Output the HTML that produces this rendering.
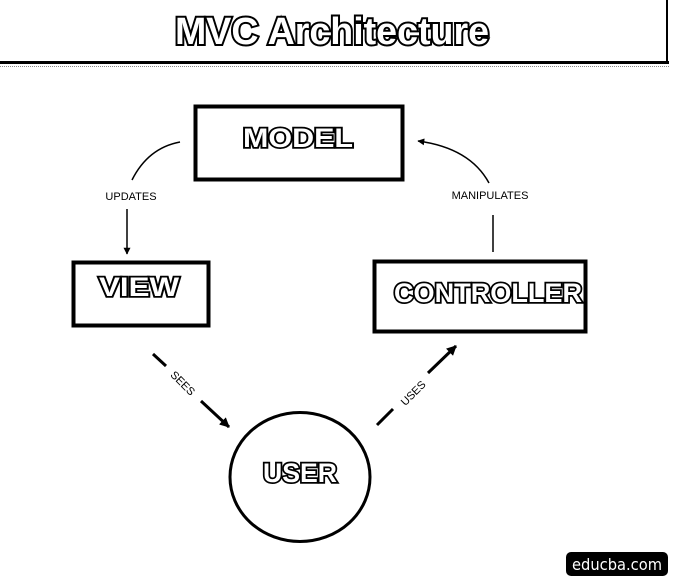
<!DOCTYPE html>
<html><head><style>html,body{margin:0;padding:0;background:#fff;}svg{display:block}</style></head>
<body>
<svg width="674" height="580" viewBox="0 0 674 580" xmlns="http://www.w3.org/2000/svg" font-family="Liberation Sans, sans-serif">
<defs>
<marker id="ah" viewBox="0 0 10 10" refX="9" refY="5" markerWidth="7" markerHeight="7" orient="auto" markerUnits="userSpaceOnUse"><path d="M0,0 L10,5 L0,10 z" fill="#000"/></marker>
<marker id="ah2" viewBox="0 0 10 10" refX="9" refY="5" markerWidth="10" markerHeight="10" orient="auto" markerUnits="userSpaceOnUse"><path d="M0,0 L10,5 L0,10 z" fill="#000"/></marker>
</defs>
<!-- title frame -->
<rect x="0" y="61" width="669" height="3" fill="#000"/>
<rect x="666" y="0" width="2" height="63" fill="#000"/>
<line x1="0" y1="66.5" x2="669" y2="66.5" stroke="#888" stroke-width="1" stroke-dasharray="1,1"/>
<text x="332" y="44" text-anchor="middle" font-size="38" font-weight="bold" fill="#fff" stroke="#000" stroke-width="4" paint-order="stroke" textLength="314" lengthAdjust="spacingAndGlyphs">MVC Architecture</text>
<!-- boxes -->
<rect x="195.5" y="106.5" width="207" height="73" fill="none" stroke="#000" stroke-width="4"/>
<text x="298" y="147" text-anchor="middle" font-size="27" font-weight="bold" fill="#fff" stroke="#000" stroke-width="3.5" paint-order="stroke" textLength="110" lengthAdjust="spacingAndGlyphs">MODEL</text>
<rect x="73.5" y="262.5" width="135" height="63" fill="none" stroke="#000" stroke-width="4"/>
<text x="139" y="296" text-anchor="middle" font-size="27" font-weight="bold" fill="#fff" stroke="#000" stroke-width="3.5" paint-order="stroke" textLength="80" lengthAdjust="spacingAndGlyphs">VIEW</text>
<rect x="374.5" y="261.5" width="211" height="70" fill="none" stroke="#000" stroke-width="4"/>
<text x="488" y="302" text-anchor="middle" font-size="27" font-weight="bold" fill="#fff" stroke="#000" stroke-width="3.5" paint-order="stroke" textLength="188" lengthAdjust="spacingAndGlyphs">CONTROLLER</text>
<ellipse cx="300" cy="477" rx="70" ry="64.5" fill="none" stroke="#000" stroke-width="3"/>
<text x="300" y="482" text-anchor="middle" font-size="27" font-weight="bold" fill="#fff" stroke="#000" stroke-width="3.5" paint-order="stroke" textLength="74" lengthAdjust="spacingAndGlyphs">USER</text>
<!-- connectors -->
<path d="M180,142 Q148,148 132,180" fill="none" stroke="#000" stroke-width="1.5"/>
<text x="131" y="200" text-anchor="middle" font-size="11" fill="#000">UPDATES</text>
<line x1="127" y1="209" x2="127" y2="254" stroke="#000" stroke-width="1.5" marker-end="url(#ah)"/>
<path d="M489,183 Q470,148 418,141" fill="none" stroke="#000" stroke-width="1.5" marker-end="url(#ah)"/>
<text x="490" y="199" text-anchor="middle" font-size="11" fill="#000">MANIPULATES</text>
<line x1="493" y1="215" x2="493" y2="252" stroke="#000" stroke-width="1.5"/>
<line x1="153" y1="354" x2="166" y2="366" stroke="#000" stroke-width="3"/>
<text x="183" y="387" text-anchor="middle" font-size="11" fill="#000" transform="rotate(45 183 383)">SEES</text>
<line x1="201" y1="401" x2="229" y2="427" stroke="#000" stroke-width="3" marker-end="url(#ah2)"/>
<line x1="377" y1="425" x2="393" y2="409" stroke="#000" stroke-width="3"/>
<text x="413" y="397" text-anchor="middle" font-size="11" fill="#000" transform="rotate(-45 413 393)">USES</text>
<line x1="428" y1="373" x2="456" y2="346" stroke="#000" stroke-width="3" marker-end="url(#ah2)"/>
<!-- badge -->
<rect x="566" y="552" width="102" height="24" rx="5" fill="#000"/>
<text x="617" y="570" text-anchor="middle" font-size="16" fill="#fff" font-family="DejaVu Sans, sans-serif" textLength="90" lengthAdjust="spacingAndGlyphs">educba.com</text>
</svg>
</body></html>
